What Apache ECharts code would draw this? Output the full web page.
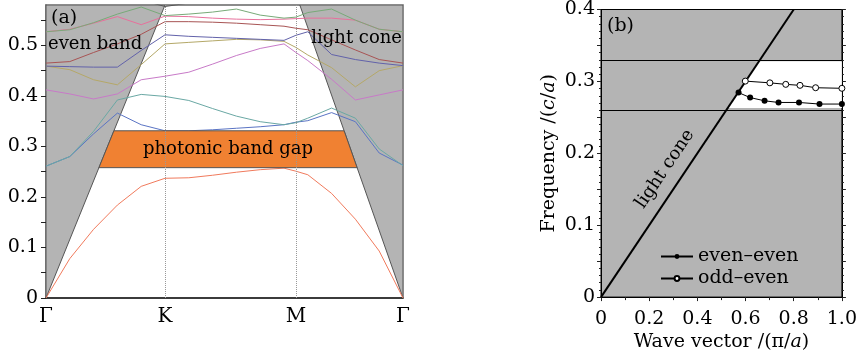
<!DOCTYPE html>
<html>
<head>
<meta charset="utf-8">
<script src="https://cdn.jsdelivr.net/npm/echarts@6/dist/echarts.min.js"></script>
<style>
  html, body { margin: 0; padding: 0; background: #fff; }
  #chart { width: 860px; height: 357px; }
</style>
</head>
<body>
<div id="chart"></div>
<script>
// ---- panel (a): bands along the Γ-K-M-Γ path ----
const kPath = [0, 2, 4, 6, 8, 10, 12, 14, 16, 18, 20, 21, 22, 24, 26, 28, 30]
const pathTicks = [0, 10, 21, 30]
const pathLabels = ['Γ', 'K', 'M', 'Γ']
const freqTicksA = [0, 0.05, 0.1, 0.15, 0.2, 0.25, 0.3, 0.35, 0.4, 0.45, 0.5, 0.55]
const freqLabelsA = [0, 0.1, 0.2, 0.3, 0.4, 0.5]

const band1 = [0, 0.078, 0.136, 0.184, 0.221, 0.237, 0.238, 0.243, 0.249, 0.254, 0.257, 0.251, 0.244, 0.207, 0.156, 0.093, 0]
const band2 = [0.261, 0.28, 0.325, 0.366, 0.343, 0.331, 0.331, 0.333, 0.336, 0.339, 0.343, 0.348, 0.351, 0.367, 0.349, 0.287, 0.263]
const band3 = [0.261, 0.28, 0.33, 0.392, 0.403, 0.399, 0.391, 0.375, 0.36, 0.349, 0.343, 0.347, 0.356, 0.376, 0.356, 0.295, 0.262]
const band4 = [0.412, 0.404, 0.394, 0.404, 0.432, 0.439, 0.447, 0.463, 0.48, 0.494, 0.503, 0.486, 0.47, 0.433, 0.392, 0.402, 0.412]
const band5 = [0.459, 0.452, 0.432, 0.422, 0.462, 0.503, 0.506, 0.509, 0.512, 0.511, 0.508, 0.496, 0.481, 0.456, 0.418, 0.45, 0.46]
const band6 = [0.459, 0.458, 0.457, 0.457, 0.49, 0.521, 0.518, 0.516, 0.514, 0.512, 0.51, 0.52, 0.527, 0.482, 0.472, 0.465, 0.46]
const band7 = [0.465, 0.468, 0.486, 0.503, 0.522, 0.547, 0.547, 0.546, 0.544, 0.541, 0.538, 0.534, 0.531, 0.511, 0.491, 0.472, 0.465]
const band8 = [0.527, 0.532, 0.544, 0.557, 0.541, 0.558, 0.557, 0.554, 0.552, 0.551, 0.552, 0.553, 0.554, 0.554, 0.55, 0.532, 0.527]
const band9 = [0.527, 0.531, 0.545, 0.562, 0.576, 0.559, 0.562, 0.566, 0.572, 0.56, 0.554, 0.556, 0.565, 0.572, 0.55, 0.532, 0.527]
const band10 = [null, null, null, null, 0.59, 0.577, 0.584, null, null, null, null, null, null, null, null, null, null]
const bandColors = ['#f07a5c', '#5a74c4', '#6aa8a4', '#c87ac8', '#b4a868', '#6262aa', '#a85454', '#e8709c', '#78aa78', '#555555']

const freqMaxA = 0.58
const lightLeftTop = 10      // k where the left light line reaches the top
const lightRightTop = 21.33  // k where the right light line reaches the top
const gapA = [0.258, 0.331]

// ---- panel (b): projected bands ----
const evenK = [0.571, 0.619, 0.679, 0.737, 0.822, 0.907, 1.0]
const evenF = [0.2844, 0.2775, 0.273, 0.2707, 0.2707, 0.2685, 0.2685]
const oddK = [0.599, 0.701, 0.767, 0.826, 0.891, 1.0]
const oddF = [0.3004, 0.298, 0.2959, 0.2945, 0.2912, 0.2904]
const coneK = [0, 0.8]
const coneF = [0, 0.4]
const gapB = [0.263, 0.328]

const serif = "'DejaVu Serif', serif"
const kEnd = kPath[kPath.length - 1]
const leftK = (f) => f * lightLeftTop / freqMaxA
const rightK = (f) => kEnd - f * (kEnd - lightRightTop) / freqMaxA
const coneSlope = coneF[1] / coneK[1]
const zip = (xs, ys) => xs.map((x, i) => [x, ys[i]])

function polygon(pts, fill, stroke, idx, z) {
  return {
    type: 'custom', xAxisIndex: idx, yAxisIndex: idx, z, silent: true, clip: true,
    data: [0],
    renderItem: (params, api) => ({
      type: 'polygon',
      shape: { points: pts.map((p) => api.coord(p)) },
      style: { fill, stroke, lineWidth: 1 },
    }),
  }
}

const bands = [band1, band2, band3, band4, band5, band6, band7, band8, band9, band10]
const bandSeries = bands.map((b, i) => ({
  type: 'line', xAxisIndex: 0, yAxisIndex: 0, z: 3,
  data: zip(kPath, b),
  symbol: 'none', clip: true, connectNulls: false,
  lineStyle: { width: 1, color: bandColors[i] },
  silent: true,
}))
bandSeries[0].markLine = {
  silent: true, symbol: 'none', label: { show: false },
  lineStyle: { type: 'dotted', color: '#999', width: 1 },
  data: pathTicks.slice(1, 3).map((v) => ({ xAxis: v })),
}

const chart = echarts.init(document.getElementById('chart'))

const tickStyle = { color: '#222', width: 1 }
const fmt = (v) => (v === 0 ? '0' : v.toFixed(1))

chart.setOption({
  animation: false,
  backgroundColor: '#fff',
  grid: [
    { left: 46, top: 5, width: 357, height: 293, show: true, borderColor: '#666', borderWidth: 1.5, backgroundColor: 'transparent' },
    { left: 601, top: 7, width: 245, height: 292, show: true, borderColor: '#000', borderWidth: 1, backgroundColor: '#b4b4b4' },
  ],
  xAxis: [
    {
      gridIndex: 0, type: 'value', min: 0, max: kEnd,
      axisLine: { lineStyle: { color: '#222', width: 1.5 } },
      axisTick: { show: false },
      splitLine: { show: false },
      axisLabel: {
        customValues: pathTicks, margin: 9,
        formatter: (v) => pathLabels[pathTicks.indexOf(v)],
        fontFamily: serif, fontSize: 20, color: '#000',
      },
    },
    {
      gridIndex: 1, type: 'value', min: 0, max: 1, interval: 0.2,
      axisLine: { lineStyle: { color: '#000', width: 1 } },
      axisTick: { length: 4, lineStyle: tickStyle },
      minorTick: { show: true, splitNumber: 2, length: 3, lineStyle: tickStyle },
      splitLine: { show: false },
      axisLabel: { formatter: fmt, fontFamily: serif, fontSize: 19, color: '#000', margin: 12 },
      name: 'Wave vector /(π/{i|a})', nameLocation: 'middle', nameGap: 35,
      nameTextStyle: { fontFamily: serif, fontSize: 19, color: '#000', rich: { i: { fontFamily: serif, fontSize: 19, fontStyle: 'italic' } } },
    },
  ],
  yAxis: [
    {
      gridIndex: 0, type: 'value', min: 0, max: freqMaxA,
      axisLine: { show: true, lineStyle: { color: '#666', width: 1.5 } },
      axisTick: { show: true, customValues: freqTicksA, length: 5, lineStyle: tickStyle },
      splitLine: { show: false },
      axisLabel: { customValues: freqLabelsA, formatter: fmt, fontFamily: serif, fontSize: 19, color: '#000', margin: 8 },
    },
    {
      gridIndex: 1, type: 'value', min: 0, max: 0.4, interval: 0.05,
      axisLine: { show: true, lineStyle: { color: '#000', width: 1 } },
      axisTick: { length: 4, lineStyle: tickStyle },
      minorTick: { show: true, splitNumber: 5, length: 2, lineStyle: tickStyle },
      splitLine: { show: false },
      axisLabel: {
        formatter: (v) => (Math.abs(v * 10 - Math.round(v * 10)) < 1e-6 ? fmt(v) : ''),
        fontFamily: serif, fontSize: 19, color: '#000', margin: 6,
      },
      name: 'Frequency /({i|c}/{i|a})', nameLocation: 'middle', nameGap: 42, nameRotate: 90,
      nameTextStyle: { fontFamily: serif, fontSize: 19, color: '#000', rich: { i: { fontFamily: serif, fontSize: 19, fontStyle: 'italic' } } },
    },
    {
      gridIndex: 1, type: 'value', min: 0, max: 0.4, interval: 0.05, position: 'right',
      axisLine: { show: true, lineStyle: { color: '#000', width: 1 } },
      axisTick: { length: 4, lineStyle: tickStyle },
      minorTick: { show: true, splitNumber: 5, length: 2, lineStyle: tickStyle },
      splitLine: { show: false },
      axisLabel: { show: false },
    },
  ],
  legend: {
    data: ['even–even', 'odd–even'],
    left: 660, top: 247, orient: 'vertical',
    itemWidth: 32, itemHeight: 6, itemGap: 3, padding: 0,
    textStyle: { fontFamily: serif, fontSize: 19, color: '#000', lineHeight: 18 },
    selectedMode: false,
  },
  series: [
    // panel (a)
    polygon([[0, 0], [lightLeftTop, freqMaxA], [0, freqMaxA]], '#b4b4b4', '#555', 0, 1),
    polygon([[kEnd, 0], [lightRightTop, freqMaxA], [kEnd, freqMaxA]], '#b4b4b4', '#555', 0, 1),
    ...bandSeries,
    polygon([[leftK(gapA[0]), gapA[0]], [rightK(gapA[0]), gapA[0]], [rightK(gapA[1]), gapA[1]], [leftK(gapA[1]), gapA[1]]], '#f08132', '#555', 0, 4),
    // panel (b)
    polygon([[gapB[0] / coneSlope, gapB[0]], [1, gapB[0]], [1, gapB[1]], [gapB[1] / coneSlope, gapB[1]]], '#fff', null, 1, 1),
    {
      type: 'line', xAxisIndex: 1, yAxisIndex: 1, z: 3, silent: true,
      data: zip(coneK, coneF), symbol: 'none',
      lineStyle: { color: '#000', width: 2 },
      markLine: {
        silent: true, symbol: 'none', label: { show: false },
        lineStyle: { type: 'solid', color: '#000', width: 1 },
        data: gapB.map((g) => ({ yAxis: g })),
      },
    },
    {
      name: 'even–even', type: 'line', xAxisIndex: 1, yAxisIndex: 1, z: 4,
      data: zip(evenK, evenF), symbol: 'circle', symbolSize: 6,
      itemStyle: { color: '#000' }, lineStyle: { color: '#000', width: 1 },
    },
    {
      name: 'odd–even', type: 'line', xAxisIndex: 1, yAxisIndex: 1, z: 4,
      data: zip(oddK, oddF), symbol: 'circle', symbolSize: 6,
      itemStyle: { color: '#fff', borderColor: '#000', borderWidth: 1 }, lineStyle: { color: '#000', width: 1 },
    },
  ],
  graphic: [
    { type: 'text', x: 51, y: 18, z: 10, style: { text: '(a)', font: `19px ${serif}`, fill: '#000', verticalAlign: 'middle' } },
    { type: 'text', x: 48, y: 44, z: 10, style: { text: 'even band', font: `18px ${serif}`, fill: '#000', verticalAlign: 'middle' } },
    { type: 'text', x: 402, y: 38, z: 10, style: { text: 'light cone', font: `18px ${serif}`, fill: '#000', align: 'right', verticalAlign: 'middle' } },
    { type: 'text', x: 228, y: 149, z: 10, style: { text: 'photonic band gap', font: `18px ${serif}`, fill: '#000', align: 'center', verticalAlign: 'middle' } },
    { type: 'text', x: 607, y: 26, z: 10, style: { text: '(b)', font: `19px ${serif}`, fill: '#000', verticalAlign: 'middle' } },
    { type: 'text', x: 665, y: 169, z: 10, rotation: 56 * Math.PI / 180, originX: 0, originY: 0, style: { text: 'light cone', font: `18px ${serif}`, fill: '#000', align: 'center', verticalAlign: 'middle' } },
  ],
})
</script>
</body>
</html>
